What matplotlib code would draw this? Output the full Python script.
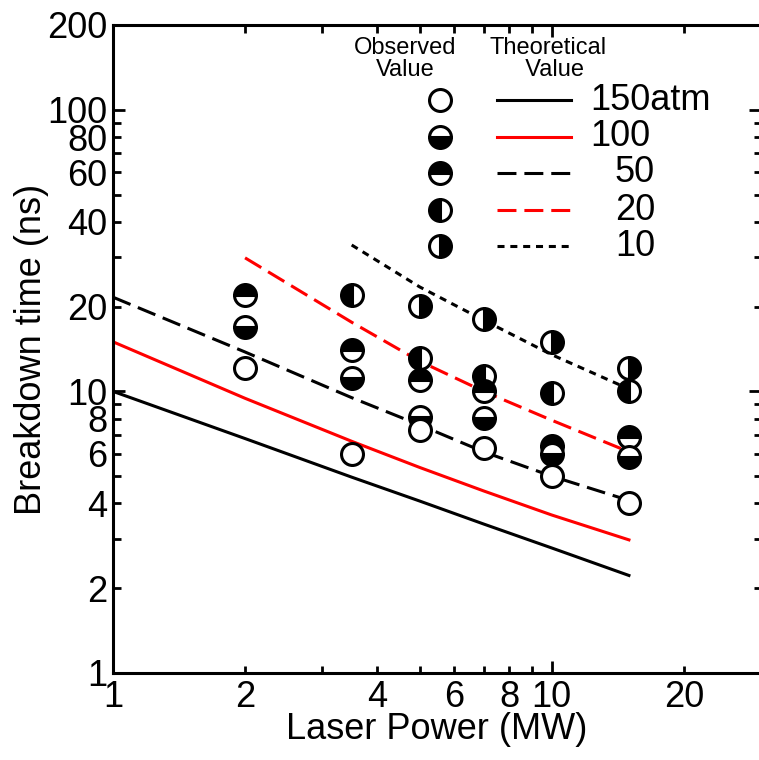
import numpy as np
import matplotlib
matplotlib.use("Agg")
import matplotlib.pyplot as plt
from matplotlib.lines import Line2D
from matplotlib.ticker import FixedLocator, FixedFormatter

plt.rcParams['font.family'] = ['Liberation Sans', 'DejaVu Sans']

# observed breakdown time (ns) vs laser power (MW), one list per pressure
power_obs = [2, 3.5, 5, 7, 10, 15]
obs_150 = [12.1, 6.0, 7.3, 6.3, 5.0, 4.0]
obs_100 = [16.9, 11.2, 8.1, 8.05, 6.0, 5.85]
obs_50 = [22.0, 14.0, 11.0, 10.0, 6.4, 6.9]
obs_20 = [np.nan, 22.0, 13.1, 11.3, 9.9, 10.0]
obs_10 = [np.nan, np.nan, 20.1, 18.1, 15.0, 12.1]

# theoretical curves
power_th = [1, 2, 3.5, 5, 7, 10, 15]
th_150 = [10.0, 6.8, 4.96, 4.08, 3.38, 2.78, 2.22]
th_100 = [15.0, 9.45, 6.65, 5.37, 4.43, 3.64, 2.97]
th_50 = [21.6, 13.8, 9.5, 7.6, 6.1, 5.0, 4.1]
th_20 = [np.nan, 29.8, 17.6, 12.8, 10.0, 7.9, 6.1]
th_10 = [np.nan, np.nan, 33.1, 23.5, 17.9, 13.5, 10.2]

labels = ['150atm', '100', '50', '20', '10']

obs_series = [obs_150, obs_100, obs_50, obs_20, obs_10]
th_series = [th_150, th_100, th_50, th_20, th_10]

DASH = (0, (6.2, 2.6))
DOT = (0, (2.3, 1.9))
line_styles = [
    dict(color='black', linestyle='-'),
    dict(color='#ff0000', linestyle='-'),
    dict(color='black', linestyle=DASH),
    dict(color='#ff0000', linestyle=DASH),
    dict(color='black', linestyle=DOT),
]
marker_styles = [
    dict(fillstyle='full', markerfacecolor='white'),
    dict(fillstyle='bottom', markerfacecolor='black', markerfacecoloralt='white'),
    dict(fillstyle='top', markerfacecolor='black', markerfacecoloralt='white'),
    dict(fillstyle='left', markerfacecolor='black', markerfacecoloralt='white'),
    dict(fillstyle='right', markerfacecolor='black', markerfacecoloralt='white'),
]
MK = dict(marker='o', markersize=15.8, markeredgewidth=2.2, markeredgecolor='black', linestyle='none')
LW = 2.2
FS = 26

W, H = 759, 760
fig = plt.figure(figsize=(W / 100, H / 100), dpi=100)
ax = fig.add_axes([113 / W, 1 - 673 / H, (761 - 113) / W, (673 - 25) / H])

for ys, st in zip(th_series, line_styles):
    ax.plot(power_th, ys, linewidth=LW, zorder=2, **st)

# markers drawn low-pressure first so the open circles end up on top
for i in reversed(range(5)):
    ax.plot(power_obs, obs_series[i], zorder=3 + (4 - i), **MK, **marker_styles[i])

ax.set_xscale('log')
ax.set_yscale('log')
ax.set_xlim(1, 30)
ax.set_ylim(1, 200)

ax.xaxis.set_major_locator(FixedLocator([1, 10]))
ax.xaxis.set_minor_locator(FixedLocator([2, 3, 4, 5, 6, 7, 8, 9, 20, 30]))
ax.xaxis.set_major_formatter(FixedFormatter(['1', '10']))
ax.xaxis.set_minor_formatter(FixedFormatter(['2', '', '4', '', '6', '', '8', '', '20', '']))

ax.yaxis.set_major_locator(FixedLocator([1, 10, 100]))
ax.yaxis.set_minor_locator(FixedLocator([2, 3, 4, 5, 6, 7, 8, 9, 20, 30, 40, 50, 60, 70, 80, 90, 200]))
ax.yaxis.set_major_formatter(FixedFormatter(['1', '10', '100']))
ax.yaxis.set_minor_formatter(FixedFormatter(['2', '', '4', '', '6', '', '8', '', '20', '', '40', '', '60', '', '80', '', '200']))

ax.tick_params(which='both', direction='in', top=True, right=True, width=2.0,
               labelsize=FS, colors='black')
ax.tick_params(which='major', length=8.6)
ax.tick_params(which='minor', length=5.4)
ax.tick_params(axis='x', which='both', pad=5)
ax.tick_params(axis='y', which='both', pad=4)

for side in ['left', 'bottom', 'top', 'right']:
    ax.spines[side].set_linewidth(2.2)

ax.set_xlabel('Laser Power (MW)', fontsize=FS, labelpad=-2)
ax.set_ylabel('Breakdown time (ns)', fontsize=FS)
ax.yaxis.set_label_coords(-0.098, 0.5)


def fx(px):
    return px / W


def fy(py):
    return 1 - py / H


# hand-built legend, two columns with headers
fig.text(fx(405), fy(59), 'Observed\nValue', fontsize=17, ha='center', va='center',
         linespacing=1.05)
fig.text(fx(548), fy(59), 'Theoretical\n  Value', fontsize=17, ha='center', va='center',
         linespacing=1.05)
rows = [100, 137, 173, 210, 246]
for i, py in enumerate(rows):
    fig.add_artist(Line2D([fx(440)], [fy(py)], transform=fig.transFigure, **MK, **marker_styles[i]))
    fig.add_artist(Line2D([fx(497), fx(571)], [fy(py), fy(py)], transform=fig.transFigure,
                          linewidth=LW, **line_styles[i]))
    if i < 2:
        fig.text(fx(590), fy(py), labels[i], fontsize=FS, ha='left', va='center')
    else:
        fig.text(fx(655), fy(py), labels[i], fontsize=FS, ha='right', va='center')

fig.savefig('out.png', dpi=100)
